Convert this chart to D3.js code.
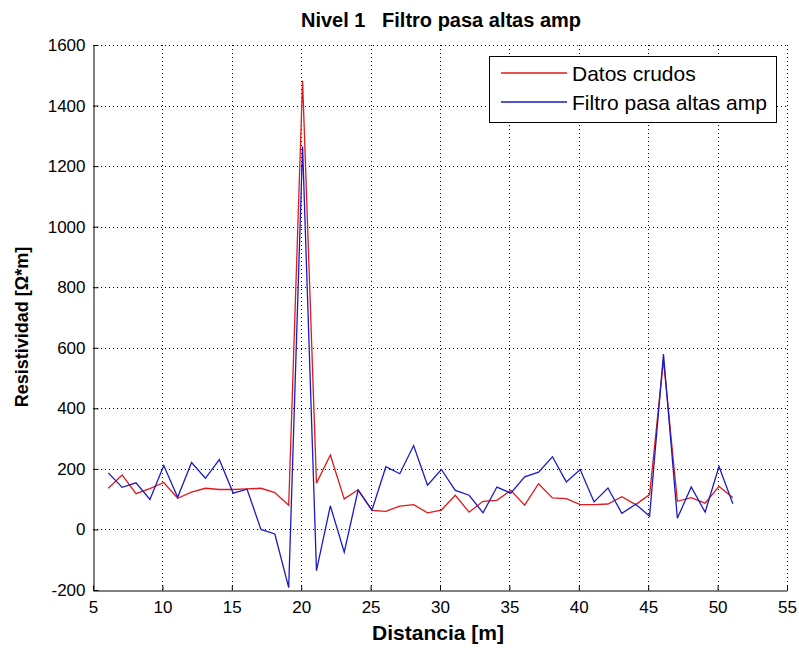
<!DOCTYPE html>
<html lang="es">
  <head>
    <meta charset="utf-8">
    <title>Nivel 1 Filtro pasa altas amp</title>
    <script src="https://d3js.org/d3.v7.min.js"></script>
    <style>
      body { margin: 0; background: #fff; }
      svg text { font-family: "Liberation Sans", Arial, sans-serif; fill: #000; }
    </style>
  </head>
  <body>
    <div id="container"></div>
    <script>
      width = 799;
      height = 648;
      margin = ({top: 45, right: 12, bottom: 58, left: 93});

      // distancia [m]
      distancia = [6.1, 7.1, 8.1, 9.1, 10.1, 11.1, 12.1, 13.1, 14.1, 15.1,
                   16.1, 17.1, 18.1, 19.1, 20.1, 21.1, 22.1, 23.1, 24.1, 25.1,
                   26.1, 27.1, 28.1, 29.1, 30.1, 31.1, 32.1, 33.1, 34.1, 35.1,
                   36.1, 37.1, 38.1, 39.1, 40.1, 41.1, 42.1, 43.1, 44.1, 45.1,
                   46.1, 47.1, 48.1, 49.1, 50.1, 51.1];
      datosCrudos = [136, 180, 118, 135, 155, 103, 123, 136, 132, 132,
                     134, 136, 122, 80, 1482, 153, 246, 101, 131, 63,
                     60, 77, 82, 55, 64, 113, 57, 93, 96, 129,
                     80, 151, 104, 102, 82, 82, 84, 108, 82, 115,
                     560, 93, 105, 87, 142, 105];
      filtroAltas = [187, 139, 154, 99, 211, 106, 221, 169, 231, 120,
                     133, 0, -15, -192, 1265, -136, 78, -75, 130, 64,
                     207, 184, 277, 146, 198, 129, 113, 55, 140, 120,
                     174, 189, 240, 157, 198, 91, 137, 53, 83, 44,
                     579, 37, 140, 57, 208, 85];

      xTicks = [5, 10, 15, 20, 25, 30, 35, 40, 45, 50, 55];
      yTicks = [-200, 0, 200, 400, 600, 800, 1000, 1200, 1400, 1600];

      series = [
        {name: "Datos crudos", values: datosCrudos, color: "#e01a1a"},
        {name: "Filtro pasa altas amp", values: filtroAltas, color: "#1a1ac8"}
      ];

      x = d3.scaleLinear()
        .domain([5, 55])
        .range([margin.left, width - margin.right]);
      y = d3.scaleLinear()
        .domain([-200, 1600])
        .range([height - margin.bottom, margin.top]);

      chart = (function(){
        const svg = d3.create("svg")
            .attr("width", width)
            .attr("height", height)
            .attr("viewBox", [0, 0, width, height]);

        // dotted grid
        const grid = svg.append("g")
            .attr("stroke", "#000")
            .attr("stroke-width", 1)
            .attr("stroke-dasharray", "1,3");
        grid.selectAll(".gx")
          .data(xTicks.slice(1))
          .join("line")
            .attr("x1", d => Math.round(x(d)) + 0.5)
            .attr("x2", d => Math.round(x(d)) + 0.5)
            .attr("y1", y(-200))
            .attr("y2", y(1600));
        grid.selectAll(".gy")
          .data(yTicks.slice(1))
          .join("line")
            .attr("y1", d => Math.round(y(d)) + 0.5)
            .attr("y2", d => Math.round(y(d)) + 0.5)
            .attr("x1", x(5))
            .attr("x2", x(55));

        // lines
        const line = d3.line()
            .x((d, i) => x(distancia[i]))
            .y(d => y(d));
        svg.append("g")
          .selectAll("path")
          .data(series)
          .join("path")
            .attr("fill", "none")
            .attr("stroke", d => d.color)
            .attr("stroke-width", 1.3)
            .attr("d", d => line(d.values));

        // axes (ticks inward, like matlab)
        const fmt = d => String(d);
        const xAxis = svg.append("g")
            .attr("transform", `translate(0,${Math.round(y(-200)) + 0.5})`)
            .call(d3.axisBottom(x).tickValues(xTicks).tickFormat(fmt)
              .tickSize(-5).tickPadding(10).tickSizeOuter(0));
        const yAxis = svg.append("g")
            .attr("transform", `translate(${Math.round(x(5)) + 0.5},0)`)
            .call(d3.axisLeft(y).tickValues(yTicks).tickFormat(fmt)
              .tickSize(-5).tickPadding(8).tickSizeOuter(0));
        [xAxis, yAxis].forEach(g => {
          g.selectAll("text")
              .attr("font-family", "Liberation Sans, Arial, sans-serif")
              .attr("font-size", 17);
          g.selectAll("line, path").attr("stroke", "#000");
        });
        xAxis.selectAll("text").attr("dy", "0.75em");

        // title and labels
        svg.append("text")
            .attr("x", 441)
            .attr("y", 27)
            .attr("text-anchor", "middle")
            .attr("font-weight", "bold")
            .attr("font-size", 20)
            .style("white-space", "pre")
            .text("Nivel 1   Filtro pasa altas amp");
        svg.append("text")
            .attr("x", 438)
            .attr("y", 640)
            .attr("text-anchor", "middle")
            .attr("font-weight", "bold")
            .attr("font-size", 21)
            .text("Distancia [m]");
        svg.append("text")
            .attr("transform", "translate(28,327) rotate(-90)")
            .attr("text-anchor", "middle")
            .attr("font-weight", "bold")
            .attr("font-size", 18)
            .text("Resistividad [Ω*m]");

        // legend
        const legend = svg.append("g");
        legend.append("rect")
            .attr("x", 489.5)
            .attr("y", 56.5)
            .attr("width", 287)
            .attr("height", 66)
            .attr("fill", "#fff")
            .attr("stroke", "#000");
        const item = legend.selectAll(".item")
          .data(series)
          .join("g")
            .attr("transform", (d, i) => `translate(0,${73 + i * 29})`);
        item.append("line")
            .attr("x1", 501)
            .attr("x2", 567)
            .attr("stroke", d => d.color)
            .attr("stroke-width", 1.3);
        item.append("text")
            .attr("x", 572)
            .attr("y", 8)
            .attr("font-size", 21)
            .text(d => d.name);

        return svg.node();
      })();

      d3.select('#container').append(() => chart);
    </script>
  </body>
</html>
